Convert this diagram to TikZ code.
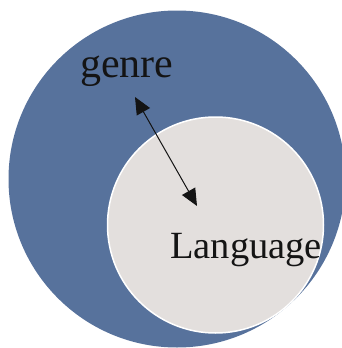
\documentclass[tikz,border=0pt]{standalone}
\usepackage{fontspec}
\setmainfont{Liberation Serif}
\usetikzlibrary{arrows.meta}

\definecolor{genrecolor}{RGB}{87,114,156}
\definecolor{languagecolor}{RGB}{227,223,221}
\definecolor{textcolor}{RGB}{20,20,20}

\begin{document}
\begin{tikzpicture}[x=1pt,y=-1pt]
  \useasboundingbox (0,0) rectangle (341,348);
  % Genre (outer circle)
  \node at(177,179)[circle,minimum size=337pt,inner sep=0pt,fill=genrecolor](genre){};
  % Language (inner circle)
  \node at(215.5,225)[circle,minimum size=216pt,inner sep=0pt,fill=languagecolor,draw=white,line width=1.5pt](language){};
  % Labels
  \node at(80,77)[anchor=base west,inner sep=0pt,text=textcolor,font=\fontsize{42}{42}\selectfont](genrelabel){genre};
  \node at(170,258)[anchor=base west,inner sep=0pt,text=textcolor,font=\fontsize{38.5}{38.5}\selectfont](languagelabel){Language};
  % Arrow
  \coordinate (top) at(135,97);
  \coordinate (bottom) at(197,206);
  \draw [{Triangle[length=17pt,width=15pt]}-{Triangle[length=17pt,width=15pt]},line width=1pt,textcolor](top) -- (bottom);
\end{tikzpicture}
\end{document}
